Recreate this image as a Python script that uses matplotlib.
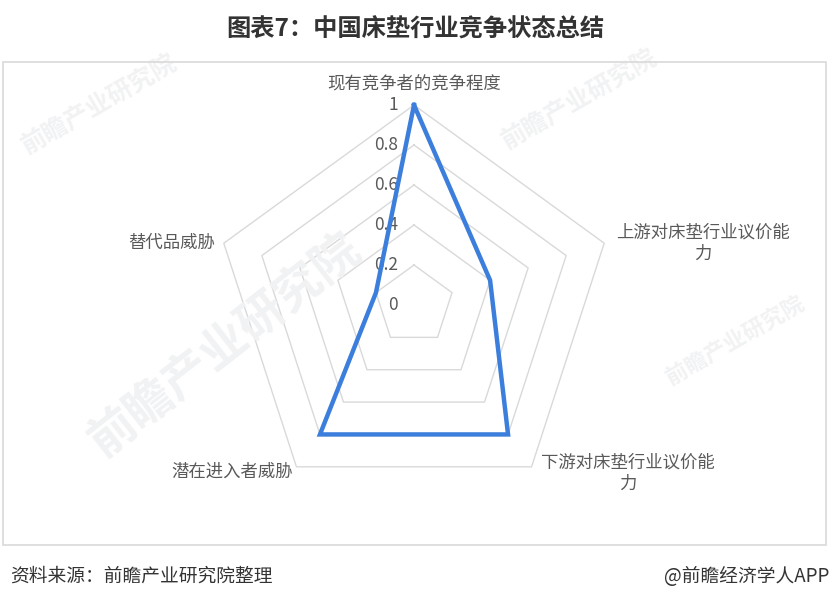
import numpy as np
import matplotlib
matplotlib.use("Agg")
import matplotlib.pyplot as plt
from matplotlib.patches import Rectangle

plt.rcParams['font.family'] = ['Noto Sans CJK SC', 'DejaVu Sans']

# ---- data ----
categories = ["现有竞争者的竞争程度", "上游对床垫行业议价能\n力", "下游对床垫行业议价能\n力",
              "潜在进入者威胁", "替代品威胁"]
values = [1.0, 0.4, 0.8, 0.8, 0.2]
ring_levels = [0.2, 0.4, 0.6, 0.8, 1.0]
tick_values = [0, 0.2, 0.4, 0.6, 0.8, 1]
tick_labels = ["0", "0.2", "0.4", "0.6", "0.8", "1"]
title = "图表7：中国床垫行业竞争状态总结"
source = "资料来源：前瞻产业研究院整理"
credit = "@前瞻经济学人APP"

W, H = 831, 606
fig = plt.figure(figsize=(W / 100, H / 100), dpi=100)
fig.patch.set_facecolor("white")

# border box
fig.add_artist(Rectangle((3 / W, 1 - 545 / H), 823 / W, 483 / H, transform=fig.transFigure,
                         fill=False, edgecolor="#d9d9d9", linewidth=1.2))

# faint watermarks
wm_color = "#f1f2f4"
for (x, y, s, r) in [(225, 345, 34, 38), (100, 105, 18, 30), (580, 100, 18, 30),
                     (735, 340, 16, 30)]:
    fig.text(x / W, 1 - y / H, "前瞻产业研究院", fontsize=s, color=wm_color, fontweight="bold",
             rotation=r, ha="center", va="center", zorder=0)

# polar axes
cx, cy, R = 414, 305, 200
ax = fig.add_axes([(cx - R) / W, 1 - (cy + R) / H, 2 * R / W, 2 * R / H], projection="polar")
ax.set_facecolor("none")
ax.set_theta_offset(np.pi / 2)
ax.set_theta_direction(-1)
ax.set_ylim(0, 1)
ax.grid(False)
ax.spines["polar"].set_visible(False)
ax.set_xticks([])
ax.set_yticks([])

n = len(categories)
angles = np.linspace(0, 2 * np.pi, n, endpoint=False)
closed = np.concatenate([angles, angles[:1]])

for lv in ring_levels:
    ax.plot(closed, [lv] * (n + 1), color="#d9d9d9", linewidth=1.0, zorder=1, clip_on=False)

vals = values + values[:1]
ax.plot(closed, vals, color="#3C7EDC", linewidth=3.2, zorder=3, solid_joinstyle="miter",
        clip_on=False)

# radial tick labels
for tv, tl in zip(tick_values, tick_labels):
    ax.annotate(tl, xy=(0, tv), xytext=(-16, 0), textcoords="offset pixels",
                ha="right", va="center", fontsize=12.5, color="#595959", zorder=2)

# category labels
offsets = [((0, 22), "center"), ((99, 0), "center"), ((96, -6), "center"),
           ((-3, -5), "right"), ((-9, 0), "right")]
for ang, lab, (off, ha) in zip(angles, categories, offsets):
    ax.annotate(lab, xy=(ang, 1.0), xytext=off, textcoords="offset pixels",
                ha=ha, va="center", fontsize=12.5, color="#595959",
                multialignment="center", linespacing=1.25, annotation_clip=False)

# title & footer
fig.text(415 / W, 1 - 30 / H, title, fontsize=17.5, fontweight="bold", color="#333333",
         ha="center", va="center")
fig.text(10 / W, 1 - 576 / H, source, fontsize=13.5, color="#333333", ha="left", va="center")
fig.text(829 / W, 1 - 576 / H, credit, fontsize=13.5, color="#333333", ha="right", va="center")

fig.savefig("out.png", dpi=100, facecolor="white")
